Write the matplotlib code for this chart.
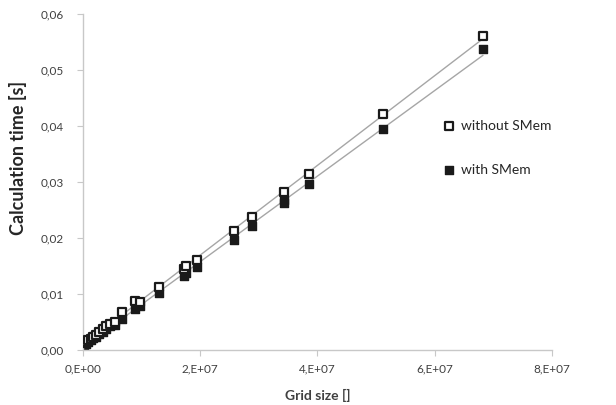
import numpy as np
import matplotlib
matplotlib.use("Agg")
import matplotlib.pyplot as plt
from matplotlib.ticker import FuncFormatter

plt.rcParams["font.family"] = ["Lato", "DejaVu Sans"]

# grid sizes
grid_without = np.array([0.02, 0.05, 0.09, 0.13, 0.17, 0.22, 0.28, 0.34, 0.40, 0.46, 0.55,
                         0.67, 0.88, 0.98, 1.30, 1.72, 1.76, 1.94, 2.58, 2.88, 3.43,
                         3.85, 5.12, 6.82]) * 1e7
time_without = [0.0012, 0.0014, 0.0018, 0.0020, 0.0024, 0.0026, 0.0032, 0.0037, 0.0042,
                0.0046, 0.0050, 0.0067, 0.0088, 0.0085, 0.0112, 0.0145, 0.0150, 0.0161,
                0.0213, 0.0237, 0.0283, 0.0315, 0.0421, 0.0560]

grid_with = np.array([0.02, 0.05, 0.09, 0.13, 0.17, 0.22, 0.28, 0.34, 0.40, 0.46, 0.55,
                      0.67, 0.88, 0.98, 1.30, 1.72, 1.76, 1.94, 2.58, 2.88, 3.43, 3.43,
                      3.85, 5.12, 6.82]) * 1e7
time_with = [0.0008, 0.0011, 0.0015, 0.0017, 0.0021, 0.0023, 0.0029, 0.0033, 0.0038,
             0.0042, 0.0045, 0.0055, 0.0073, 0.0078, 0.0101, 0.0133, 0.0138, 0.0149,
             0.0196, 0.0222, 0.0262, 0.0268, 0.0296, 0.0395, 0.0537]

fig = plt.figure(figsize=(6.16, 4.05), dpi=100)
ax = fig.add_axes([0.1347, 0.1358, 0.7614, 0.8296])

# linear trendlines like Excel
for gx, ty in [(grid_without, time_without), (grid_with, time_with)]:
    k, b = np.polyfit(gx, ty, 1)
    xs = np.array([gx.min(), gx.max()])
    ax.plot(xs, k * xs + b, color="#a6a6a6", lw=1.0, zorder=1)

ax.scatter(grid_with, time_with, marker="s", s=40, color="#1a1a1a",
           edgecolors="#1a1a1a", linewidths=1.0, zorder=2, label="with SMem")
ax.scatter(grid_without, time_without, marker="s", s=34, facecolors="white",
           edgecolors="#1a1a1a", linewidths=1.6, zorder=3, label="without SMem")

ax.set_xlim(0, 8e7)
ax.set_ylim(0, 0.06)
ax.set_xticks(np.arange(0, 8.1e7, 2e7))
ax.set_yticks(np.arange(0, 0.061, 0.01))


def fmt_x(v, pos):
    if v == 0:
        return "0,E+00"
    return f"{v / 1e7:.0f},E+07"


ax.xaxis.set_major_formatter(FuncFormatter(fmt_x))
ax.yaxis.set_major_formatter(FuncFormatter(lambda v, p: f"{v:.2f}".replace(".", ",")))

for side in ["top", "right"]:
    ax.spines[side].set_visible(False)
for side in ["left", "bottom"]:
    ax.spines[side].set_color("#c8c8c8")
    ax.spines[side].set_linewidth(1.0)
ax.tick_params(axis="both", colors="#c8c8c8", labelcolor="#404040", labelsize=8.5, length=4)
ax.tick_params(axis="x", pad=6)
ax.tick_params(axis="y", pad=10)

ax.set_xlabel("Grid size []", fontsize=10, fontweight="bold", color="#404040")
ax.set_ylabel("Calculation time [s]", fontsize=13, fontweight="bold", color="#262626")
ax.xaxis.set_label_coords(0.501, -0.115)
ax.yaxis.set_label_coords(-0.119, 0.571)

handles, labels = ax.get_legend_handles_labels()
ax.legend(handles[::-1], labels[::-1], loc="upper left", bbox_to_anchor=(0.698, 0.735),
          bbox_transform=fig.transFigure, frameon=False, fontsize=10, labelspacing=2.3,
          handletextpad=0.3, handlelength=1.0, labelcolor="#262626")

fig.savefig("out.png", dpi=100)
